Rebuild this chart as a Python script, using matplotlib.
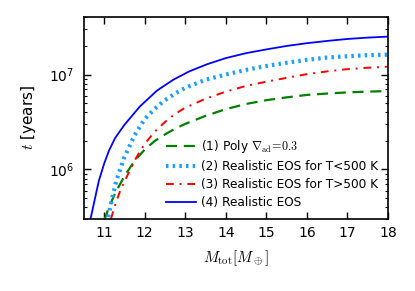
import numpy as np
import matplotlib
matplotlib.use("Agg")
import matplotlib.pyplot as plt

plt.rcParams['mathtext.fontset'] = 'cm'
plt.rcParams['font.family'] = 'DejaVu Sans'

# (1) polytrope, grad_ad = 0.3
m_poly = [11.0, 11.1, 11.25, 11.5, 11.75, 12.0, 12.25, 12.5, 12.75, 13.0, 13.5, 14.0, 14.5, 15.0, 15.5, 16.0, 16.5, 17.0, 17.5, 18.0]
t_poly = [2.88e5, 3.80e5, 5.37e5, 8.51e5, 1.23e6, 1.62e6, 2.0e6, 2.34e6, 2.69e6, 3.02e6, 3.67e6, 4.32e6, 4.90e6, 5.37e6, 5.75e6, 6.10e6, 6.31e6, 6.49e6, 6.61e6, 6.70e6]

# (2) realistic EOS for T<500 K
m_cold = [11.1, 11.2, 11.3, 11.5, 11.75, 12.0, 12.25, 12.5, 12.75, 13.0, 13.5, 14.0, 14.5, 15.0, 15.5, 16.0, 16.5, 17.0, 17.5, 18.0]
t_cold = [3.16e5, 5.01e5, 7.59e5, 1.35e6, 2.29e6, 3.39e6, 4.37e6, 5.37e6, 6.31e6, 7.24e6, 8.81e6, 1.0e7, 1.12e7, 1.23e7, 1.33e7, 1.43e7, 1.51e7, 1.56e7, 1.60e7, 1.62e7]

# (3) realistic EOS for T>500 K
m_hot = [11.17, 11.25, 11.4, 11.6, 11.8, 12.0, 12.25, 12.5, 12.75, 13.0, 13.5, 14.0, 14.5, 15.0, 15.5, 16.0, 16.5, 17.0, 17.5, 18.0]
t_hot = [3.02e5, 3.98e5, 6.03e5, 9.12e5, 1.35e6, 1.86e6, 2.51e6, 3.16e6, 3.85e6, 4.47e6, 5.56e6, 6.61e6, 7.59e6, 8.41e6, 9.23e6, 1.01e7, 1.08e7, 1.14e7, 1.18e7, 1.21e7]

# (4) realistic EOS
m_real = [10.65, 10.87, 11.0, 11.12, 11.27, 11.5, 11.88, 12.3, 12.7, 13.1, 13.53, 14.0, 14.5, 15.0, 15.5, 16.0, 16.5, 17.0, 17.5, 18.0]
t_real = [2.82e5, 7.59e5, 1.15e6, 1.58e6, 2.14e6, 2.95e6, 4.60e6, 6.76e6, 8.79e6, 1.08e7, 1.28e7, 1.49e7, 1.68e7, 1.84e7, 2.00e7, 2.14e7, 2.26e7, 2.37e7, 2.45e7, 2.51e7]

fig = plt.figure(figsize=(4.15, 2.91), dpi=100)
ax = fig.add_axes([0.202, 0.247, 0.733, 0.695])

ax.plot(m_poly, t_poly, color='g', ls=(0, (5, 3)), lw=1.6, label=r'(1) Poly $\nabla_{\rm ad}\!=\!0.3$')
ax.plot(m_cold, t_cold, color='#1E9FFF', ls=(0, (0.6, 1.0)), lw=3.0, label='(2) Realistic EOS for T<500 K')
ax.plot(m_hot, t_hot, color='r', ls=(0, (4, 3, 1, 3)), lw=1.4, label='(3) Realistic EOS for T>500 K')
ax.plot(m_real, t_real, color='b', ls='-', lw=1.3, label='(4) Realistic EOS')

ax.set_yscale('log')
ax.set_xlim(10.5, 18)
ax.set_ylim(3e5, 4.05e7)
ax.set_xticks([11, 12, 13, 14, 15, 16, 17, 18])

ax.tick_params(which='both', direction='in', top=True, right=True, labelsize=10)
ax.tick_params(which='major', length=5, width=1)
ax.tick_params(which='minor', length=2.5, width=0.8)
ax.tick_params(axis='x', pad=5)
ax.tick_params(axis='y', pad=7)
for s in ax.spines.values():
    s.set_linewidth(1.2)

ax.set_xlabel(r'$M_{\rm tot}[M_\oplus]$', fontsize=11, labelpad=6)
ax.set_ylabel(r'$t$ [years]', fontsize=11, labelpad=8)

ax.legend(loc='lower right', frameon=False, fontsize=8.7, handlelength=2.5,
          labelspacing=0.4, handletextpad=0.4, borderaxespad=0.45)

fig.savefig('out.png', dpi=100)
